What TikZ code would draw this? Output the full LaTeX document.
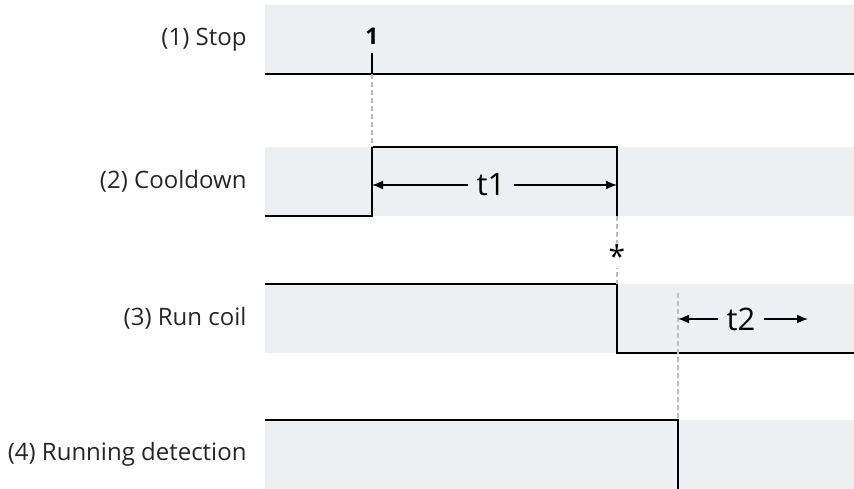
\documentclass[tikz,border=0pt]{standalone}
\usepackage{fontspec}
\setmainfont{Open Sans}
\usetikzlibrary{positioning,arrows.meta}
\definecolor{bandgrey}{HTML}{EDF0F3}
\definecolor{guidegrey}{HTML}{BDBDBD}
\tikzstyle{band}=[rectangle, fill=bandgrey, draw=none, anchor=north west,
        minimum width=589pt, minimum height=69pt, inner sep=0pt]
\tikzstyle{rowlabel}=[anchor=east, text=black!85, font=\fontsize{24}{27}\selectfont]
\tikzstyle{signal}=[line width=2pt, black]
\tikzstyle{guide}=[guidegrey, line width=2pt, dash pattern=on 5pt off 3pt]
\tikzstyle{span}=[-{Latex[length=11pt,width=9pt]}, line width=1.6pt]
\tikzstyle{spanlabel}=[font=\fontsize{31}{34}\selectfont, inner sep=8pt]

\begin{document}
\begin{tikzpicture}[x=1pt, y=-1pt, node distance=15pt]
	\useasboundingbox (0,0) rectangle (854,489);

	% rows
	\node (row1) [band] at (265,5) {};
	\node (row2) [band] at (265,147) {};
	\node (row3) [band] at (265,284) {};
	\node (row4) [band] at (265,420) {};

	\node (lab1) [rowlabel, left=of row1] {(1) Stop};
	\node (lab2) [rowlabel, left=of row2] {(2) Cooldown};
	\node (lab3) [rowlabel, left=of row3] {(3) Run coil};
	\node (lab4) [rowlabel, left=of row4] {(4) Running detection};

	% events
	\coordinate (stop) at (372,74);
	\coordinate (coolup) at (372,147);
	\coordinate (cooldown) at (617,216);
	\coordinate (coiloff) at (617,284);
	\coordinate (detect) at (678,293);
	\coordinate (runoff) at (678,420);

	% signals
	\draw[signal] (row1.south west) -- (row1.south east);
	\draw[signal] (stop) -- ++(0,-21) node (mark1) [above=4pt, font=\fontsize{23}{26}\selectfont\bfseries] {1};
	\draw[signal] (row2.south west) -- (row2.south west -| coolup) -- (coolup) -- (coolup -| cooldown) -- (cooldown);
	\draw[signal] (row3.north west) -- (coiloff) -- (coiloff |- row3.south) -- (row3.south east);
	\draw[signal] (row4.north west) -- (runoff) -- (runoff |- row4.south);

	% guides
	\draw[guide] (stop) -- (coolup);
	\draw[guide] (cooldown) -- (coiloff);
	\node (star) [fill=white, inner sep=1pt, font=\fontsize{30}{32}\selectfont] at (617,256) {*};
	\draw[guide] (detect) -- (runoff);

	% times
	\node (t1) [spanlabel] at (491,185) {t1};
	\draw[span] (t1.west) -- (t1.west -| coolup);
	\draw[span] (t1.east) -- (t1.east -| cooldown);

	\node (t2) [spanlabel] at (741,319) {t2};
	\coordinate (t2end) at (808,319);
	\draw[span] (t2.west) -- (t2.west -| detect);
	\draw[span] (t2.east) -- (t2end);

\end{tikzpicture}
\end{document}
